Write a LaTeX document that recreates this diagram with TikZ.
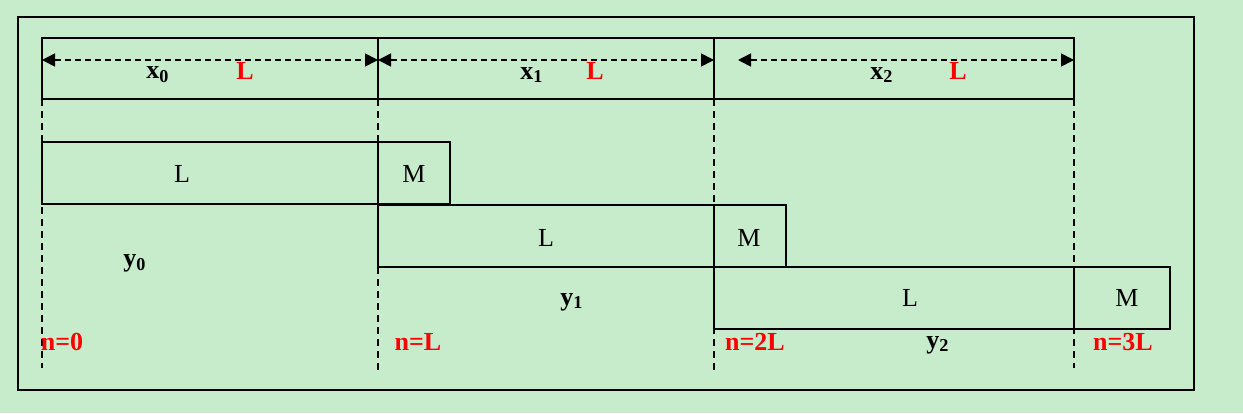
\documentclass[tikz,border=0pt]{standalone}
\usepackage{fontspec}
\setmainfont{Liberation Serif}
\usetikzlibrary{arrows.meta}
\definecolor{bgc}{RGB}{198,236,204}
\definecolor{redc}{RGB}{255,0,0}
\tikzset{
  frame/.style={draw=black,line width=0.95pt},
  guide/.style={draw=black,line width=0.8pt,dash pattern=on 3.5pt off 2.5pt},
  dim/.style={draw=black,line width=0.8pt,dash pattern=on 3pt off 2pt,{Triangle[length=6.5pt,width=6.5pt]}-{Triangle[length=6.5pt,width=6.5pt]}},
  txt/.style={inner sep=0pt,font=\fontsize{13}{14}\selectfont},
  btxt/.style={inner sep=0pt,font=\fontsize{13}{14}\selectfont\bfseries},
  rtxt/.style={inner sep=0pt,font=\fontsize{13}{14}\selectfont\bfseries,text=redc},
}
\begin{document}
\begin{tikzpicture}[x=0.5pt,y=-0.5pt]
\fill[bgc] (0,0) rectangle (1243,413);
\useasboundingbox (0,0) rectangle (1243,413);
% outer frame
\draw[frame] (18,17) rectangle (1194,390);
% coordinates
\coordinate (a0) at (42,99);  \coordinate (a0e) at (42,368);
\coordinate (a1) at (378,99); \coordinate (a1e) at (378,370);
\coordinate (a2) at (714,99); \coordinate (a2e) at (714,370);
\coordinate (a3) at (1074,99); \coordinate (a3e) at (1074,368);
% top box
\draw[frame] (42,38) rectangle (1074,99);
\draw[frame] (378,38) -- (378,99);
\draw[frame] (714,38) -- (714,99);
% dimension arrows
\coordinate (d0s) at (42,60);  \coordinate (d0e) at (378,60);
\coordinate (d1s) at (378,60); \coordinate (d1e) at (714,60);
\coordinate (d2s) at (738,60); \coordinate (d2e) at (1074,60);
\draw[dim] (d0s) -- (d0e);
\draw[dim] (d1s) -- (d1e);
\draw[dim] (d2s) -- (d2e);
% dashed guides
\draw[guide] (a0) -- (a0e);
\draw[guide] (a1) -- (a1e);
\draw[guide] (a2) -- (a2e);
\draw[guide] (a3) -- (a3e);
% blocks
\draw[frame] (42,142) rectangle (378,204);
\draw[frame] (378,142) rectangle (450,204);
\draw[frame] (378,205) rectangle (714,267);
\draw[frame] (714,205) rectangle (786,267);
\draw[frame] (714,267) rectangle (1074,329);
\draw[frame] (1074,267) rectangle (1170,329);
% block labels
\node[txt] (bl0) at (182,174) {L};
\node[txt] (bm0) at (414,174) {M};
\node[txt] (bl1) at (546,238) {L};
\node[txt] (bm1) at (749,238) {M};
\node[txt] (bl2) at (910,298) {L};
\node[txt] (bm2) at (1127,298) {M};
% top labels
\node[btxt] (x0) at (158,75) {x\textsubscript{0}};
\node[rtxt] (L0) at (245,71) {L};
\node[btxt] (x1) at (532,75) {x\textsubscript{1}};
\node[rtxt] (L1) at (595,71) {L};
\node[btxt] (x2) at (882,75) {x\textsubscript{2}};
\node[rtxt] (L2) at (958,71) {L};
% y labels
\node[btxt] (y0) at (135,263) {y\textsubscript{0}};
\node[btxt] (y1) at (572,302) {y\textsubscript{1}};
\node[btxt] (y2) at (938,345) {y\textsubscript{2}};
% n labels
\node[rtxt] (n0) at (62,342) {n=0};
\node[rtxt] (n1) at (418,342) {n=L};
\node[rtxt] (n2) at (755,342) {n=2L};
\node[rtxt] (n3) at (1123,342) {n=3L};
\end{tikzpicture}
\end{document}
